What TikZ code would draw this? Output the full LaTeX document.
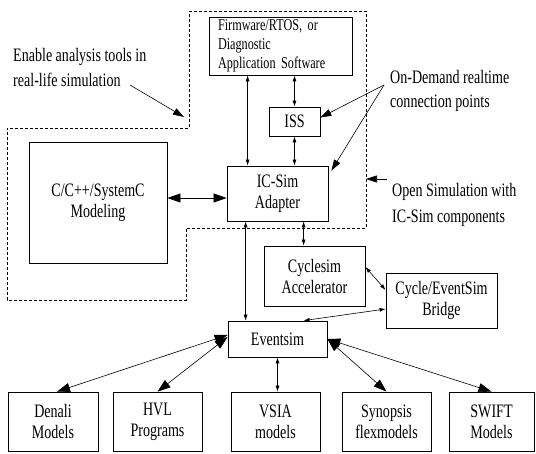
\documentclass[tikz,border=0pt]{standalone}
\usepackage{fontspec}
\setmainfont{Liberation Serif}[FakeStretch=0.74]
\usetikzlibrary{arrows.meta}
\begin{document}
\begin{tikzpicture}[x=1pt,y=-1pt,
  box/.style={draw,line width=0.8pt,inner sep=0pt,align=center,font=\fontsize{19}{21}\selectfont},
  sa/.style={{Latex[length=6pt,width=4pt]}-{Latex[length=6pt,width=4pt]},line width=0.6pt},
  ba/.style={{Triangle[length=13pt,width=9pt]}-{Triangle[length=13pt,width=9pt]},line width=0.6pt},
  ma/.style={-{Triangle[length=11pt,width=7pt]},line width=0.6pt},
  note/.style={align=left,anchor=west,inner sep=0pt}]
\useasboundingbox (0,0) rectangle (536,453);
% dashed region
\draw[line width=0.6pt,dash pattern=on 3pt off 2pt] (189,11) -- (366,11) -- (366,228) -- (186,228) -- (186,300) -- (7,300) -- (7,128) -- (189,128) -- cycle;
% boxes
\node[box,minimum width=143pt,minimum height=58pt,text width=125pt,align=left,font=\fontsize{16.5}{19}\selectfont] (fw) at (280.5,46) {Firmware/RTOS, or\\Diagnostic\\Application Software};
\node[box,minimum width=51pt,minimum height=29pt] (iss) at (294.5,121.5) {ISS};
\node[box,minimum width=101pt,minimum height=55pt] (ics) at (277.5,193.5) {IC-Sim\\Adapter};
\node[box,minimum width=138pt,minimum height=121pt] (cpp) at (98,202.5) {C/C++/SystemC\\Modeling};
\node[box,minimum width=101pt,minimum height=60pt] (cyc) at (314.5,276) {Cyclesim\\Accelerator};
\node[box,minimum width=111pt,minimum height=55pt] (brg) at (441.5,300.5) {Cycle/EventSim\\Bridge};
\node[box,minimum width=99pt,minimum height=36pt] (evs) at (277.5,339) {Eventsim};
\node[box,minimum width=90pt,minimum height=59pt] (den) at (53,421.5) {Denali\\Models};
\node[box,minimum width=89pt,minimum height=59pt] (hvl) at (157.5,421.5) {HVL\\Programs};
\node[box,minimum width=89pt,minimum height=59pt] (vsia) at (275.5,421.5) {VSIA\\models};
\node[box,minimum width=89pt,minimum height=59pt] (syn) at (386.5,421.5) {Synopsis\\flexmodels};
\node[box,minimum width=85pt,minimum height=59pt] (swf) at (491.5,421.5) {SWIFT\\Models};
% notes
\node[note,font=\fontsize{19}{25}\selectfont] (n1) at (13,67.5) {Enable analysis tools in\\real-life simulation};
\node[note,font=\fontsize{19}{24}\selectfont] (n2) at (390,91) {On-Demand realtime\\connection points};
\node[note,font=\fontsize{19}{26}\selectfont] (n3) at (392,205) {Open Simulation with\\IC-Sim components};
% connectors
\draw[sa] ([xshift=21pt]ics.north west) -- ([xshift=21pt]ics.north west |- fw.south);
\draw[sa] (iss.north) -- (iss.north |- fw.south);
\draw[sa] (iss.south) -- (iss.south |- ics.north);
\draw[ba] ([yshift=-4.5pt]ics.west) -- ([yshift=-4.5pt]ics.west -| cpp.east);
\draw[sa] ([xshift=19pt]ics.south west) -- ([xshift=19pt]ics.south west |- evs.north);
\draw[sa] ([xshift=40pt]cyc.north west) -- ([xshift=40pt]cyc.north west |- ics.south);
\draw[sa] ([yshift=9pt]cyc.east) -- ([yshift=10.5pt]brg.west);
\draw[sa] ([yshift=-8.5pt]brg.west) -- ([xshift=76pt]evs.north west);
\draw[ba] ([yshift=4pt]evs.west) -- ([xshift=4pt]den.north);
\draw[ba] ([yshift=2pt]evs.west) -- (hvl.north);
\draw[sa] (evs.south) -- (evs.south |- vsia.north);
\draw[ba] (evs.east) -- (syn.north);
\draw[ba] (evs.east) -- (swf.north);
% annotation arrows
\coordinate (e1) at (130,85);
\coordinate (e2) at (184,117);
\draw[ma] (e1) -- (e2);
\coordinate (o1) at (384,85);
\draw[ma] (o1) -- ([yshift=4pt]iss.east);
\draw[ma] (o1) -- ([xshift=3pt,yshift=-5pt]ics.north east);
\coordinate (p1) at (387,179);
\coordinate (p2) at (366,179);
\draw[ma] (p1) -- (p2);
\end{tikzpicture}
\end{document}
